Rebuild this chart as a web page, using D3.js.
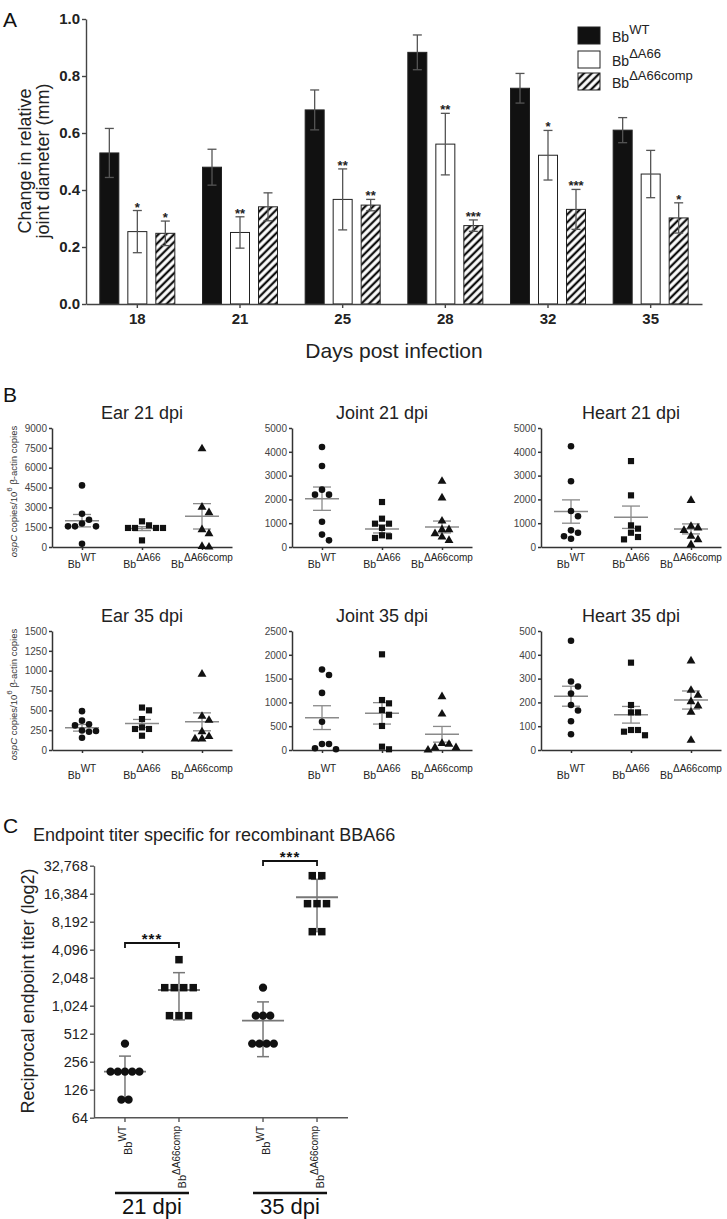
<!DOCTYPE html>
<html><head><meta charset="utf-8">
<script src="https://cdn.jsdelivr.net/npm/d3@7"></script>
<style>body{margin:0;background:#fff}</style>
</head><body>
<script>
// ================= DATA =================
// Panel A: change in relative joint diameter (mm)
const days = ["18","21","25","28","32","35"];
const wtMean   = [0.53, 0.48, 0.681, 0.883, 0.757, 0.61];
const wtErr    = [0.086, 0.063, 0.07, 0.061, 0.052, 0.044];
const d66Mean  = [0.254, 0.251, 0.367, 0.561, 0.522, 0.456];
const d66Err   = [0.074, 0.055, 0.107, 0.108, 0.087, 0.083];
const compMean = [0.248, 0.341, 0.347, 0.275, 0.332, 0.302];
const compErr  = [0.043, 0.049, 0.02, 0.02, 0.07, 0.053];
const d66Sig   = ["*","**","**","**","*",""];
const compSig  = ["*","","**","***","***","*"];
const aTicks   = [0, 0.2, 0.4, 0.6, 0.8, 1.0];
const legendSup = ["WT","ΔA66","ΔA66comp"];

// Panel B: ospC copies / 10^6 beta-actin copies
const groupsB = ["WT","ΔA66","ΔA66comp"];
const ear21WT   = [4660, 2520, 2060, 1780, 1560, 1560, 1560, 250];
const ear21D66  = [1940, 1640, 1440, 1440, 1440, 1440, 500];
const ear21Comp = [7430, 3020, 2600, 1310, 1010, 50, 0];
const ear21Mean = [1990, 1390, 2320];
const ear21Sem  = [470, 150, 960];
const joint21WT   = [4200, 3400, 2410, 2200, 2200, 1060, 520, 280];
const joint21D66  = [1890, 1190, 980, 980, 800, 490, 450, 380];
const joint21Comp = [2760, 2060, 1090, 730, 730, 560, 420, 280];
const joint21Mean = [2030, 760, 840];
const joint21Sem  = [490, 170, 250];
const heart21WT   = [4230, 2760, 1510, 1290, 700, 600, 450, 350];
const heart21D66  = [3610, 2170, 910, 770, 600, 420, 320];
const heart21Comp = [1960, 870, 800, 700, 450, 310, 100];
const heart21Mean = [1490, 1250, 760];
const heart21Sem  = [490, 470, 210];
const ear35WT   = [490, 370, 325, 310, 245, 230, 240, 155];
const ear35D66  = [535, 500, 390, 285, 265, 265, 180];
const ear35Comp = [955, 425, 375, 230, 170, 140, 140];
const ear35Mean = [280, 335, 355];
const ear35Sem  = [42, 50, 113];
const joint35WT   = [1690, 1575, 1200, 595, 125, 15, 35, 125];
const joint35D66  = [2010, 1050, 980, 840, 740, 505, 15, 70];
const joint35Comp = [1120, 755, 140, 50, 0, 50, 120];
const joint35Mean = [680, 770, 330];
const joint35Sem  = [250, 225, 165];
const heart35WT   = [459, 288, 267, 237, 189, 166, 121, 66];
const heart35D66  = [367, 189, 158, 158, 84, 62, 77, 84];
const heart35Comp = [374, 251, 230, 203, 185, 159, 41];
const heart35Mean = [226, 148, 210];
const heart35Sem  = [42, 35, 38];
const ticksEar21 = [0,1500,3000,4500,6000,7500,9000];
const ticks5000  = [0,1000,2000,3000,4000,5000];
const ticksEar35 = [0,250,500,750,1000,1250,1500];
const ticksJoint35 = [0,500,1000,1500,2000,2500];
const ticksHeart35 = [0,100,200,300,400,500];

// Panel C: reciprocal endpoint titer
const cDays = ["21 dpi","35 dpi"];
const cGroupSup = ["WT","ΔA66comp"];
const cWT21   = [400, 200, 200, 200, 200, 200, 100, 100];
const cComp21 = [3200, 1600, 1600, 1600, 1600, 800, 800, 800];
const cWT35   = [1600, 800, 800, 800, 400, 400, 400, 400];
const cComp35 = [25600, 25600, 12800, 12800, 12800, 6400, 6400];
const cMean  = [200, 1510, 706, 15000];
const cUpper = [294, 2320, 1125, 23400];
const cLower = [100, 720, 290, 6400];
const cTickValues = [64,128,256,512,1024,2048,4096,8192,16384,32768];
const cTickLabels = ["64","126","256","512","1,024","2,048","4,096","8,192","16,384","32,768"];

// ================= DRAW =================
const FONT = "'Liberation Sans', Arial, Helvetica, sans-serif";
const svg = d3.select("body").append("svg")
  .attr("width", 727).attr("height", 1219)
  .attr("font-family", FONT);

const defs = svg.append("defs");
const pat = defs.append("pattern").attr("id","hatch")
  .attr("patternUnits","userSpaceOnUse").attr("width",5.5).attr("height",5.5)
  .attr("patternTransform","rotate(45)");
pat.append("rect").attr("width",5.5).attr("height",5.5).attr("fill","#fff");
pat.append("line").attr("x1",2.75).attr("x2",2.75).attr("y1",0).attr("y2",5.5)
  .attr("stroke","#111").attr("stroke-width",2.3);

function supText(g, x, y, base, sup, baseSize, supSize, rise, anchor) {
  const t = g.append("text").attr("x", x).attr("y", y)
    .attr("text-anchor", anchor || "start").attr("fill", "#222");
  t.append("tspan").attr("font-size", baseSize).text(base);
  t.append("tspan").attr("font-size", supSize).attr("dy", -rise).text(sup);
  return t;
}

// ---------- Panel A ----------
const gA = svg.append("g");
gA.append("text").attr("x",3).attr("y",27).attr("font-size",21).attr("fill","#111").text("A");
const xA = d3.scaleBand().domain(days).range([86, 702]);
const yA = d3.scaleLinear().domain([0, 1]).range([304, 19]);
const seriesA = [
  {mean: wtMean, err: wtErr, fill: "#111", sig: null},
  {mean: d66Mean, err: d66Err, fill: "#fff", sig: d66Sig},
  {mean: compMean, err: compErr, fill: "url(#hatch)", sig: compSig}
];
const offA = d3.scalePoint().domain([0,1,2]).range([-28, 28]);
const barW = 19;
seriesA.forEach((s, si) => {
  days.forEach((d, i) => {
    const cx = xA(d) + xA.bandwidth()/2 + offA(si);
    gA.append("rect").attr("x", cx - barW/2).attr("y", yA(s.mean[i]))
      .attr("width", barW).attr("height", yA(0) - yA(s.mean[i]))
      .attr("fill", s.fill).attr("stroke", "#222").attr("stroke-width", 1);
  });
});
seriesA.forEach((s, si) => {
  days.forEach((d, i) => {
    const cx = xA(d) + xA.bandwidth()/2 + offA(si);
    const top = yA(s.mean[i] + s.err[i]), bot = yA(s.mean[i] - s.err[i]);
    const col = "#555";
    gA.append("line").attr("x1",cx).attr("x2",cx).attr("y1",top).attr("y2",bot)
      .attr("stroke",col).attr("stroke-width",1.3);
    [top, bot].forEach(yy => gA.append("line").attr("x1",cx-4.5).attr("x2",cx+4.5)
      .attr("y1",yy).attr("y2",yy).attr("stroke",col).attr("stroke-width",1.3));
    if (s.sig && s.sig[i]) {
      gA.append("text").attr("x", cx).attr("y", top + 1).attr("text-anchor","middle")
        .attr("font-size", 13).attr("font-weight","bold").attr("fill","#222").text(s.sig[i]);
    }
  });
});
const axAy = gA.append("g").attr("transform","translate(86,0)")
  .call(d3.axisLeft(yA).tickValues(aTicks).tickFormat(d3.format(".1f")).tickSize(4).tickSizeOuter(0).tickPadding(2));
const axAx = gA.append("g").attr("transform","translate(0,304)")
  .call(d3.axisBottom(xA).tickSize(4).tickSizeOuter(0).tickPadding(5));
[axAy, axAx].forEach(a => {
  a.attr("font-family", FONT).attr("font-size", 15).attr("font-weight","bold");
  a.selectAll("path,line").attr("stroke","#444").attr("stroke-width",1.4);
  a.selectAll("text").attr("fill","#222");
});
gA.append("text").attr("transform","translate(31,161) rotate(-90)").attr("text-anchor","middle")
  .attr("font-size",18).attr("fill","#222").text("Change in relative");
gA.append("text").attr("transform","translate(49,161) rotate(-90)").attr("text-anchor","middle")
  .attr("font-size",18).attr("fill","#222").text("joint diameter (mm)");
gA.append("text").attr("x",394).attr("y",358).attr("text-anchor","middle")
  .attr("font-size",21).attr("fill","#222").text("Days post infection");
// legend
const legFills = ["#111","#fff","url(#hatch)"];
const legY = [27, 51, 73];
legendSup.forEach((s, i) => {
  gA.append("rect").attr("x",578).attr("y",legY[i]).attr("width",22).attr("height",17)
    .attr("fill",legFills[i]).attr("stroke","#222").attr("stroke-width",1);
  supText(gA, 612, legY[i] + 15, "Bb", s, 14, 13, 8);
});

// ---------- Panel B ----------
const gB = svg.append("g");
gB.append("text").attr("x",3).attr("y",402).attr("font-size",21).attr("fill","#111").text("B");
const panelsB = [
  {title:"Ear 21 dpi",   x0:52,  yTop:428, yBot:547, ticks:ticksEar21, data:[ear21WT,ear21D66,ear21Comp], mean:ear21Mean, sem:ear21Sem, ylab:true, lab:21},
  {title:"Joint 21 dpi", x0:292, yTop:428, yBot:547, ticks:ticks5000, data:[joint21WT,joint21D66,joint21Comp], mean:joint21Mean, sem:joint21Sem, ylab:false, lab:21},
  {title:"Heart 21 dpi", x0:541, yTop:428, yBot:547, ticks:ticks5000, data:[heart21WT,heart21D66,heart21Comp], mean:heart21Mean, sem:heart21Sem, ylab:false, lab:21},
  {title:"Ear 35 dpi",   x0:52,  yTop:631, yBot:750, ticks:ticksEar35, data:[ear35WT,ear35D66,ear35Comp], mean:ear35Mean, sem:ear35Sem, ylab:true, lab:29},
  {title:"Joint 35 dpi", x0:292, yTop:631, yBot:750, ticks:ticksJoint35, data:[joint35WT,joint35D66,joint35Comp], mean:joint35Mean, sem:joint35Sem, ylab:false, lab:29},
  {title:"Heart 35 dpi", x0:541, yTop:631, yBot:750, ticks:ticksHeart35, data:[heart35WT,heart35D66,heart35Comp], mean:heart35Mean, sem:heart35Sem, ylab:false, lab:29}
];
const symB = [d3.symbolCircle, d3.symbolSquare, d3.symbolTriangle];
const symSize = [34, 38, 34];

function swarm(vals, yS, cx, r) {
  const sorted = vals.slice().sort((a,b) => b - a);
  const placed = [];
  sorted.forEach(v => {
    const yy = yS(v);
    for (let k = 0; k < 20; k++) {
      const m = k === 0 ? 0 : (k % 2 === 1 ? (k+1)/2 : -k/2);
      const xx = cx + m * 2 * r;
      if (placed.every(p => Math.hypot(p[0]-xx, p[1]-yy) >= 2*r - 0.01)) {
        placed.push([xx, yy]); break;
      }
    }
  });
  return placed;
}

panelsB.forEach(p => {
  const g = gB.append("g");
  const x1 = p.x0 + 180;
  const yS = d3.scaleLinear().domain([0, p.ticks[p.ticks.length-1]]).range([p.yBot, p.yTop]);
  const xS = d3.scalePoint().domain(groupsB).range([p.x0, x1]).padding(0.5);
  g.append("text").attr("x", xS(groupsB[1])).attr("y", p.yTop - 9).attr("text-anchor","middle")
    .attr("font-size",18).attr("fill","#222").text(p.title);
  const ay = g.append("g").attr("transform",`translate(${p.x0},0)`)
    .call(d3.axisLeft(yS).tickValues(p.ticks).tickFormat(d3.format("d")).tickSize(3).tickSizeOuter(0).tickPadding(2));
  const ax = g.append("g").attr("transform",`translate(0,${p.yBot})`)
    .call(d3.axisBottom(xS).tickSize(3).tickSizeOuter(0).tickFormat(""));
  [ay, ax].forEach(a => {
    a.attr("font-family", FONT).attr("font-size", 10);
    a.selectAll("path,line").attr("stroke","#333").attr("stroke-width",1.5);
    a.selectAll("text").attr("fill","#444");
  });
  groupsB.forEach((grp, gi) => {
    const cx = xS(grp);
    const m = yS(p.mean[gi]), t = yS(p.mean[gi] + p.sem[gi]), b = yS(Math.max(0, p.mean[gi] - p.sem[gi]));
    const col = "#8a8a8a";
    g.append("line").attr("x1",cx-17).attr("x2",cx+17).attr("y1",m).attr("y2",m).attr("stroke",col).attr("stroke-width",1.5);
    g.append("line").attr("x1",cx).attr("x2",cx).attr("y1",t).attr("y2",b).attr("stroke",col).attr("stroke-width",1.3);
    [t, b].forEach(yy => g.append("line").attr("x1",cx-9).attr("x2",cx+9).attr("y1",yy).attr("y2",yy).attr("stroke",col).attr("stroke-width",1.3));
    swarm(p.data[gi], yS, cx, 3.5).forEach(pt => {
      g.append("path").attr("d", d3.symbol().type(symB[gi]).size(symSize[gi])())
        .attr("transform", `translate(${pt[0]},${pt[1]})`).attr("fill","#111");
    });
    supText(g, cx, p.yBot + p.lab, "Bb", grp, 10.5, 10, 7, "middle");
  });
  if (p.ylab) {
    const t = g.append("text").attr("transform",`translate(17,${(p.yTop+p.yBot)/2 + 4}) rotate(-90)`)
      .attr("text-anchor","middle").attr("font-size",9.5).attr("fill","#333");
    t.append("tspan").attr("font-style","italic").text("ospC");
    t.append("tspan").text(" copies/10");
    t.append("tspan").attr("font-size",8).attr("dy",-5).text("6");
    t.append("tspan").attr("dy",5).text(" β-actin copies");
  }
});

// ---------- Panel C ----------
const gC = svg.append("g");
gC.append("text").attr("x",3).attr("y",833).attr("font-size",21).attr("fill","#111").text("C");
gC.append("text").attr("x",33).attr("y",841).attr("font-size",18).attr("fill","#222")
  .text("Endpoint titer specific for recombinant BBA66");
const yC = d3.scaleLog().base(2).domain([64, 32768]).range([1117.7, 865.7]);
const xDay = d3.scalePoint().domain(cDays).range([94, 348]).padding(0.42);
const cData = [cWT21, cComp21, cWT35, cComp35];
const cPos = [0,1,2,3].map(i => xDay(cDays[Math.floor(i/2)]) + (i % 2 === 0 ? -27 : 27));
const ayC = gC.append("g").attr("transform","translate(94,0)")
  .call(d3.axisLeft(yC).tickValues(cTickValues).tickFormat((d,i) => cTickLabels[i]).tickSize(4).tickSizeOuter(0).tickPadding(2));
ayC.attr("font-family", FONT).attr("font-size", 14.5);
ayC.selectAll("path,line").attr("stroke","#555").attr("stroke-width",1.4);
ayC.selectAll("text").attr("fill","#222");
gC.append("line").attr("x1",94).attr("x2",348).attr("y1",1117.7).attr("y2",1117.7).attr("stroke","#555").attr("stroke-width",1.4);
cPos.forEach((cx, i) => {
  gC.append("line").attr("x1",cx).attr("x2",cx).attr("y1",1117.7).attr("y2",1122).attr("stroke","#555").attr("stroke-width",1.4);
  // error + geometric mean
  const col = "#777";
  gC.append("line").attr("x1",cx).attr("x2",cx).attr("y1",yC(cUpper[i])).attr("y2",yC(cLower[i])).attr("stroke",col).attr("stroke-width",1.5);
  [cUpper[i], cLower[i]].forEach(v => gC.append("line").attr("x1",cx-6).attr("x2",cx+6)
    .attr("y1",yC(v)).attr("y2",yC(v)).attr("stroke",col).attr("stroke-width",1.5));
  gC.append("line").attr("x1",cx-21).attr("x2",cx+21).attr("y1",yC(cMean[i])).attr("y2",yC(cMean[i]))
    .attr("stroke",col).attr("stroke-width",1.8);
  // points: identical values spread in a row
  const isCircle = i % 2 === 0;
  const spacing = isCircle ? 7.2 : 9.5;
  const counts = d3.rollup(cData[i], v => v.length, d => d);
  counts.forEach((n, v) => {
    for (let k = 0; k < n; k++) {
      const xx = cx + (k - (n-1)/2) * spacing;
      gC.append("path").attr("d", d3.symbol().type(isCircle ? d3.symbolCircle : d3.symbolSquare).size(isCircle ? 54 : 56)())
        .attr("transform",`translate(${xx},${yC(v)})`).attr("fill","#111");
    }
  });
  // rotated label
  const t = gC.append("text").attr("transform",`translate(${cx+7},1126) rotate(-90)`)
    .attr("text-anchor","end").attr("fill","#222");
  t.append("tspan").attr("font-size",11).text("Bb");
  t.append("tspan").attr("font-size",10).attr("dy",-6).text(cGroupSup[i % 2]);
});
// significance brackets
[[0,1,943],[2,3,861]].forEach(([a,b,yy]) => {
  gC.append("path").attr("d",`M${cPos[a]},${yy+5}V${yy}H${cPos[b]}V${yy+5}`)
    .attr("fill","none").attr("stroke","#111").attr("stroke-width",1.8);
  gC.append("text").attr("x",(cPos[a]+cPos[b])/2).attr("y",yy+1).attr("text-anchor","middle")
    .attr("font-size",15).attr("font-weight","bold").attr("letter-spacing",1).attr("fill","#111").text("***");
});
// day group labels
cDays.forEach(d => {
  const cx = xDay(d);
  gC.append("line").attr("x1",cx-37).attr("x2",cx+37).attr("y1",1193).attr("y2",1193)
    .attr("stroke","#111").attr("stroke-width",2.5);
  gC.append("text").attr("x",cx).attr("y",1214).attr("text-anchor","middle")
    .attr("font-size",22).attr("fill","#111").text(d);
});
gC.append("text").attr("transform","translate(34,991) rotate(-90)").attr("text-anchor","middle")
  .attr("font-size",18).attr("fill","#222").text("Reciprocal endpoint titer (log2)");
</script>
</body></html>
